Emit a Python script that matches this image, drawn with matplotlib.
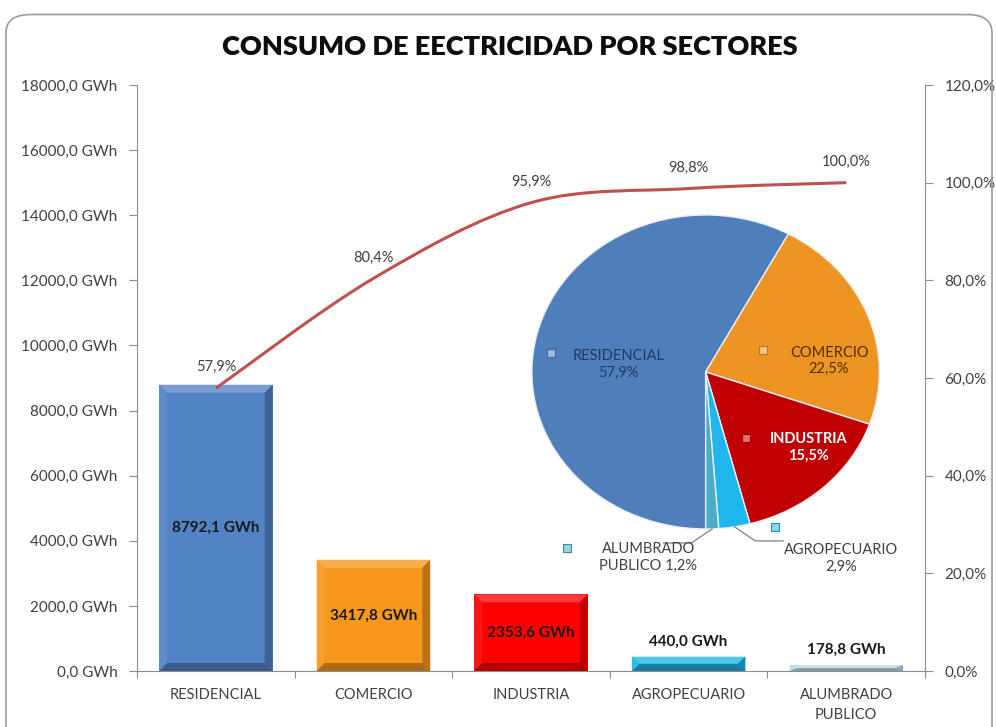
import matplotlib
matplotlib.use("Agg")
import matplotlib.pyplot as plt
import numpy as np
from matplotlib.patches import Polygon, FancyBboxPatch, PathPatch
from matplotlib.path import Path
from matplotlib.colors import to_rgb

plt.rcParams["font.family"] = ["Lato", "DejaVu Sans"]

sectores = ["RESIDENCIAL", "COMERCIO", "INDUSTRIA", "AGROPECUARIO", "ALUMBRADO\nPUBLICO"]
consumo_gwh = [8792.1, 3417.8, 2353.6, 440.0, 178.8]
acumulado_pct = [57.9, 80.4, 95.9, 98.8, 100.0]
pie_pct = [57.9, 22.5, 15.5, 2.9, 1.2]
pie_labels = ["RESIDENCIAL\n57,9%", "COMERCIO\n22,5%", "INDUSTRIA\n15,5%",
              "AGROPECUARIO\n2,9%", "ALUMBRADO\nPUBLICO 1,2%"]
yticks_gwh = np.arange(0, 18001, 2000)
yticks_pct = np.arange(0, 121, 20)

bar_colors = ["#5283C4", "#F7981D", "#FF0000", "#1DB5E6", "#B6DDE8"]
pie_colors = ["#4F7FBB", "#EE9422", "#C00000", "#1FB6EC", "#4BACC6"]
line_color = "#C0504D"
text_gray = "#404040"
axis_gray = "#8C8C8C"


def fmt_es(v, dec=1):
    return f"{v:.{dec}f}".replace(".", ",")


def mix(c, other, t):
    c = np.array(to_rgb(c))
    o = np.array(to_rgb(other))
    return tuple(c * (1 - t) + o * t)


fig = plt.figure(figsize=(9.96, 7.27), dpi=100)

# marco redondeado
frame = FancyBboxPatch((0.006, -0.05), 0.99, 1.03, boxstyle="round,pad=0,rounding_size=0.025",
                       transform=fig.transFigure, facecolor="none", edgecolor="#9A9A9A",
                       linewidth=1.2, zorder=10)
fig.patches.append(frame)

ax = fig.add_axes([0.1376, 0.0770, 0.7912, 0.8061])
ax.set_facecolor("none")
x = np.arange(len(sectores))
width = 0.72
ax.bar(x, consumo_gwh, width=width, color=bar_colors, zorder=2)

# efecto bisel
px_y = 18000 / (0.8061 * 727)
for xi, h, c in zip(x, consumo_gwh, bar_colors):
    x0, x1 = xi - width / 2, xi + width / 2
    dx = 0.05
    dy = min(8 * px_y, h / 2)
    faces = [
        ([(x0, h), (x1, h), (x1 - dx, h - dy), (x0 + dx, h - dy)], mix(c, "white", 0.22)),
        ([(x0, 0), (x0, h), (x0 + dx, h - dy), (x0 + dx, dy)], mix(c, "white", 0.08)),
        ([(x1, 0), (x1, h), (x1 - dx, h - dy), (x1 - dx, dy)], mix(c, "black", 0.25)),
        ([(x0, 0), (x1, 0), (x1 - dx, dy), (x0 + dx, dy)], mix(c, "black", 0.30)),
    ]
    for pts, fc in faces:
        ax.add_patch(Polygon(pts, closed=True, facecolor=fc, edgecolor="none", zorder=3))

for xi, h in zip(x, consumo_gwh):
    label = f"{fmt_es(h)} GWh"
    if h > 1500:
        ax.text(xi, h / 2, label, ha="center", va="center", fontsize=11,
                fontweight="bold", color="#1A1A1A", zorder=5)
    else:
        ax.annotate(label, (xi, h), xytext=(0, 6), textcoords="offset points",
                    ha="center", va="bottom", fontsize=11, fontweight="bold",
                    color="#1A1A1A", zorder=5)

ax.set_xlim(-0.5, len(sectores) - 0.5)
ax.set_ylim(0, 18000)
ax.set_yticks(yticks_gwh)
ax.set_yticklabels([f"{fmt_es(v)} GWh" for v in yticks_gwh], fontsize=11, color=text_gray)
ax.set_xticks(np.arange(-0.5, len(sectores)), labels=[""] * (len(sectores) + 1))
ax.set_xticks(x, labels=sectores, minor=True)
ax.tick_params(axis="x", which="minor", length=0, pad=12, labelsize=10.5, labelcolor=text_gray)
ax.tick_params(axis="x", which="major", length=5, color=axis_gray)
ax.tick_params(axis="y", length=6, color=axis_gray, pad=8)
for lab in ax.get_xticklabels(minor=True):
    lab.set_verticalalignment("top")
    lab.set_linespacing(1.55)
for side in ["top", "right"]:
    ax.spines[side].set_visible(False)
for side in ["left", "bottom"]:
    ax.spines[side].set_color(axis_gray)

ax2 = ax.twinx()
ax2.set_ylim(0, 1.2)
ax2.set_yticks(yticks_pct / 100)
ax2.set_yticklabels([f"{fmt_es(v)}%" for v in yticks_pct], fontsize=11, color=text_gray)
ax2.tick_params(axis="y", length=6, color=axis_gray, pad=8)
for side in ["top", "left", "bottom"]:
    ax2.spines[side].set_visible(False)
ax2.spines["right"].set_color(axis_gray)

# linea suavizada (Catmull-Rom)
pts = np.column_stack([x, np.array(acumulado_pct) / 100])
verts = [tuple(pts[0])]
codes = [Path.MOVETO]
n = len(pts)
for i in range(n - 1):
    p0 = pts[max(i - 1, 0)]
    p1 = pts[i]
    p2 = pts[i + 1]
    p3 = pts[min(i + 2, n - 1)]
    c1 = p1 + (p2 - p0) / 6
    c2 = p2 - (p3 - p1) / 6
    verts += [tuple(c1), tuple(c2), tuple(p2)]
    codes += [Path.CURVE4] * 3
ax2.add_patch(PathPatch(Path(verts, codes), facecolor="none", edgecolor=line_color,
                        linewidth=2.2, zorder=4))
for xi, p in zip(x, acumulado_pct):
    ax2.annotate(f"{fmt_es(p)}%", (xi, p / 100), xytext=(0, 10), textcoords="offset points",
                 ha="center", va="bottom", fontsize=10.5, color=text_gray)

fig.text(0.512, 0.935, "CONSUMO DE EECTRICIDAD POR SECTORES", ha="center", va="center",
         fontsize=19.5, fontweight="heavy", color="#0D0D0D")

# pastel
axp = fig.add_axes([0.534, 0.2724, 0.349, 0.4319])
wedges, _ = axp.pie(pie_pct, colors=pie_colors, startangle=270, counterclock=False,
                    wedgeprops=dict(edgecolor="#E8F0FA", linewidth=1.0))
axp.set_aspect("auto")
axp.set_xlim(-1, 1)
axp.set_ylim(-1, 1)
axp.set_axis_off()

label_pos = [(-0.50, 0.05), (0.71, 0.07), (0.59, -0.48), (0.78, -1.19), (-0.33, -1.18)]
marker_pos = [(-0.89, 0.12), (0.33, 0.14), (0.23, -0.42), (0.40, -0.99), (-0.80, -1.12)]
label_colors = ["#1F3A60", "#4A3000", "white", text_gray, text_gray]
label_weights = ["normal", "normal", "bold", "normal", "normal"]
for lab, (lx, ly), (mx, my), c, lc, fw in zip(pie_labels, label_pos, marker_pos,
                                              pie_colors, label_colors, label_weights):
    axp.text(lx, ly, lab, ha="center", va="center", fontsize=10.5, color=lc,
             fontweight=fw, linespacing=1.25, clip_on=False)
    axp.plot(mx, my, marker="s", markersize=6, markerfacecolor=mix(c, "white", 0.45),
             markeredgecolor=mix(c, "black", 0.2), markeredgewidth=0.8, clip_on=False)

# lineas guia de las rebanadas pequenas
for w, sign in zip(wedges[3:], [1, -1]):
    ang = np.deg2rad((w.theta1 + w.theta2) / 2)
    ex, ey = np.cos(ang), np.sin(ang)
    axp.plot([ex, ex + sign * 0.12, ex + sign * 0.28], [ey, ey - 0.09, ey - 0.09],
             color="#7F7F7F", linewidth=0.9, clip_on=False)

fig.savefig("out.png", dpi=100)
